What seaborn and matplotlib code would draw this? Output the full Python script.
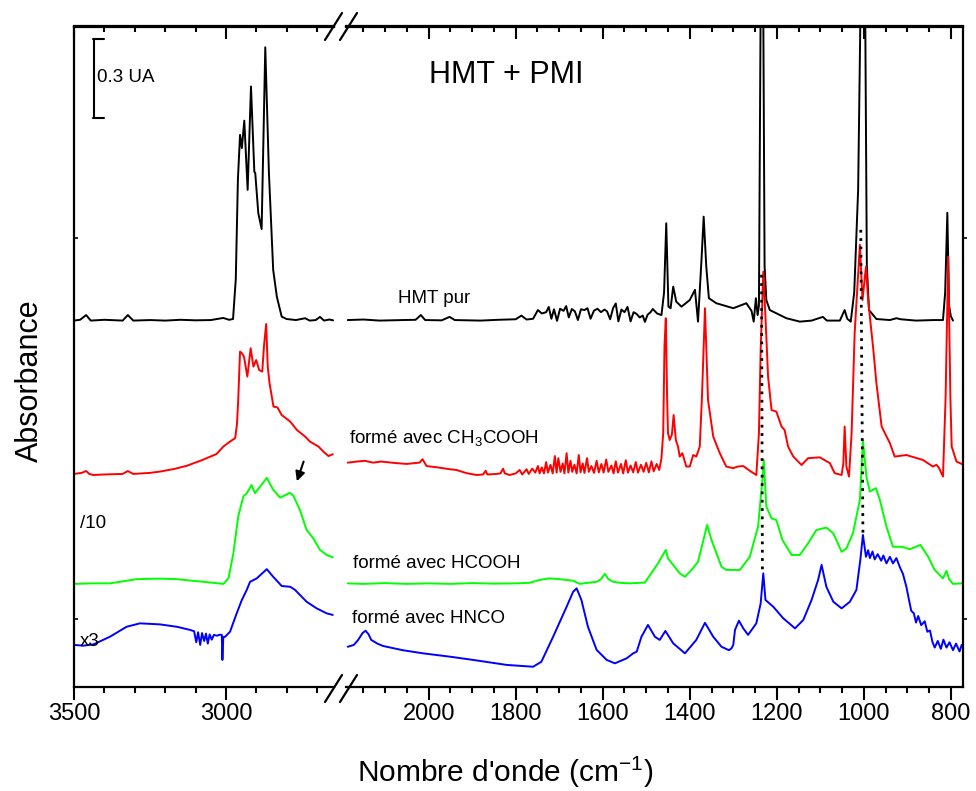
import matplotlib
matplotlib.use("Agg")
import matplotlib.pyplot as plt
import seaborn as sns
from matplotlib.lines import Line2D
from matplotlib.ticker import MultipleLocator

sns.set_style("ticks")
plt.rcParams['font.family'] = ['Liberation Sans', 'DejaVu Sans']
plt.rcParams['mathtext.default'] = 'regular'
for key in ('text.color', 'axes.edgecolor', 'xtick.color', 'ytick.color', 'axes.labelcolor'):
    plt.rcParams[key] = 'black'

# Spectra: (wavenumber cm-1, absorbance incl. offset)
# high wavenumber window 3500-2645, low wavenumber window 2190-772
hmt_hi = [(3500, 1.393), (3480, 1.396), (3460, 1.414), (3445, 1.393), (3400, 1.396), (3340, 1.393),
          (3323, 1.414), (3305, 1.393), (3250, 1.395), (3200, 1.393), (3150, 1.396), (3100, 1.394),
          (3050, 1.395), (3009, 1.403), (2990, 1.396), (2977, 1.399), (2968, 1.55), (2961, 1.93),
          (2954, 2.099), (2948, 2.049), (2940, 2.153), (2929, 1.890), (2918, 2.283), (2907, 1.959),
          (2904, 1.954), (2894, 1.802), (2883, 1.741), (2871, 2.432), (2859, 1.954), (2845, 1.586),
          (2833, 1.484), (2817, 1.408), (2801, 1.399), (2770, 1.395), (2740, 1.402), (2725, 1.393),
          (2705, 1.395), (2691, 1.407), (2678, 1.393), (2660, 1.397), (2648, 1.394)]

hmt_lo = [(2186, 1.395), (2150, 1.397), (2113, 1.393), (2060, 1.395), (2030, 1.396), (2018, 1.414),
          (2008, 1.395), (1970, 1.394), (1952, 1.407), (1940, 1.395), (1880, 1.393), (1840, 1.396),
          (1800, 1.398), (1787, 1.412), (1775, 1.397), (1760, 1.400), (1749, 1.433), (1740, 1.420),
          (1730, 1.425), (1724, 1.445), (1718, 1.400), (1712, 1.436), (1705, 1.392), (1698, 1.438),
          (1690, 1.430), (1684, 1.448), (1678, 1.405), (1671, 1.437), (1664, 1.428), (1657, 1.395),
          (1650, 1.436), (1642, 1.433), (1635, 1.440), (1628, 1.400), (1620, 1.431), (1612, 1.438),
          (1604, 1.425), (1596, 1.435), (1590, 1.428), (1583, 1.398), (1576, 1.441), (1570, 1.458),
          (1564, 1.390), (1557, 1.435), (1550, 1.425), (1543, 1.445), (1536, 1.390), (1529, 1.425),
          (1522, 1.418), (1515, 1.405), (1508, 1.412), (1503, 1.388), (1497, 1.415), (1490, 1.425),
          (1485, 1.437), (1475, 1.420), (1465, 1.414), (1459, 1.50), (1454, 1.763), (1449, 1.446),
          (1444, 1.440), (1438, 1.522), (1431, 1.465), (1419, 1.446), (1400, 1.471), (1388, 1.510),
          (1381, 1.389), (1373, 1.624), (1368, 1.788), (1362, 1.598), (1356, 1.478), (1339, 1.459),
          (1300, 1.440), (1270, 1.459), (1258, 1.430), (1253, 1.389), (1248, 1.478), (1244, 1.414),
          (1241, 1.45), (1236, 2.9), (1232, 2.9), (1228, 1.6), (1224, 1.471), (1216, 1.433),
          (1178, 1.402), (1147, 1.389), (1120, 1.393), (1094, 1.407), (1085, 1.393), (1055, 1.393),
          (1044, 1.433), (1038, 1.400), (1030, 1.389), (1022, 1.5), (1013, 1.890), (1005, 2.9),
          (998, 2.9), (993, 1.6), (988, 1.433), (971, 1.399), (940, 1.395), (925, 1.402),
          (915, 1.398), (880, 1.393), (840, 1.395), (818, 1.395), (813, 1.5), (808, 1.803),
          (804, 1.45), (800, 1.41), (795, 1.393)]

ch3_hi = [(3500, 0.810), (3475, 0.814), (3460, 0.821), (3450, 0.810), (3436, 0.806), (3400, 0.808),
          (3340, 0.810), (3323, 0.821), (3305, 0.810), (3250, 0.814), (3217, 0.819), (3170, 0.829),
          (3129, 0.841), (3080, 0.862), (3031, 0.886), (3009, 0.914), (2987, 0.933), (2970, 0.946),
          (2964, 1.0), (2960, 1.091), (2954, 1.275), (2948, 1.269), (2941, 1.256), (2930, 1.180),
          (2919, 1.288), (2910, 1.218), (2901, 1.243), (2891, 1.205), (2881, 1.199), (2875, 1.30),
          (2868, 1.380), (2863, 1.22), (2857, 1.155), (2844, 1.066), (2831, 1.063), (2817, 1.034),
          (2789, 1.009), (2767, 0.977), (2740, 0.952), (2724, 0.933), (2696, 0.914), (2680, 0.895),
          (2663, 0.878), (2649, 0.885)]

ch3_lo = [(2186, 0.853), (2160, 0.858), (2147, 0.860), (2128, 0.853), (2109, 0.857), (2080, 0.852),
          (2051, 0.848), (2021, 0.853), (2014, 0.866), (2005, 0.840), (1980, 0.835), (1952, 0.828),
          (1936, 0.825), (1913, 0.813), (1890, 0.806), (1875, 0.808), (1869, 0.822), (1865, 0.808),
          (1844, 0.810), (1835, 0.812), (1829, 0.830), (1825, 0.812), (1814, 0.806), (1800, 0.812),
          (1791, 0.825), (1785, 0.808), (1775, 0.828), (1770, 0.810), (1762, 0.830), (1755, 0.815),
          (1749, 0.840), (1745, 0.812), (1740, 0.835), (1735, 0.812), (1730, 0.855), (1726, 0.815),
          (1720, 0.845), (1715, 0.812), (1710, 0.878), (1706, 0.815), (1702, 0.870), (1697, 0.818),
          (1692, 0.850), (1688, 0.812), (1683, 0.889), (1679, 0.815), (1674, 0.860), (1670, 0.818),
          (1665, 0.845), (1660, 0.812), (1655, 0.882), (1651, 0.816), (1646, 0.850), (1642, 0.814),
          (1636, 0.870), (1632, 0.818), (1626, 0.840), (1620, 0.814), (1614, 0.860), (1609, 0.816),
          (1603, 0.848), (1598, 0.815), (1592, 0.865), (1587, 0.818), (1580, 0.842), (1575, 0.812),
          (1570, 0.858), (1565, 0.815), (1558, 0.848), (1553, 0.812), (1547, 0.862), (1542, 0.815),
          (1536, 0.842), (1530, 0.816), (1524, 0.855), (1519, 0.815), (1512, 0.845), (1506, 0.818),
          (1500, 0.852), (1494, 0.816), (1488, 0.858), (1483, 0.820), (1476, 0.848), (1470, 0.825),
          (1465, 0.870), (1461, 0.965), (1458, 1.30), (1455, 1.402), (1452, 1.10), (1450, 0.965),
          (1446, 0.939), (1441, 0.960), (1437, 1.034), (1432, 0.939), (1427, 0.914), (1423, 0.876),
          (1417, 0.889), (1408, 0.838), (1400, 0.838), (1392, 0.882), (1385, 0.876), (1377, 0.914),
          (1372, 1.10), (1365, 1.440), (1358, 1.091), (1346, 0.952), (1331, 0.889), (1316, 0.838),
          (1300, 0.832), (1290, 0.838), (1277, 0.840), (1262, 0.822), (1247, 0.806), (1241, 0.965),
          (1237, 1.281), (1231, 1.579), (1226, 1.408), (1220, 1.180), (1212, 1.053), (1201, 1.047),
          (1189, 0.990), (1182, 0.977), (1174, 0.914), (1162, 0.876), (1147, 0.851), (1143, 0.844),
          (1128, 0.870), (1101, 0.873), (1078, 0.851), (1067, 0.813), (1051, 0.806), (1047, 0.850),
          (1044, 0.990), (1040, 0.838), (1034, 0.800), (1028, 0.965), (1021, 1.345), (1009, 1.681),
          (1003, 1.471), (995, 1.598), (990, 1.471), (978, 1.281), (971, 1.155), (959, 0.990),
          (940, 0.927), (929, 0.876), (902, 0.882), (864, 0.863), (841, 0.838), (833, 0.845),
          (827, 0.832), (818, 0.800), (812, 1.100), (806, 1.636), (801, 1.100), (798, 0.914),
          (787, 0.857), (775, 0.848)]

hcooh_hi = [(3500, 0.392), (3440, 0.394), (3382, 0.394), (3294, 0.410), (3220, 0.412), (3162, 0.410),
            (3120, 0.405), (3075, 0.400), (3009, 0.392), (2992, 0.413), (2976, 0.508), (2960, 0.648),
            (2943, 0.725), (2932, 0.736), (2916, 0.768), (2905, 0.737), (2888, 0.762), (2866, 0.795),
            (2845, 0.750), (2822, 0.720), (2790, 0.738), (2779, 0.728), (2757, 0.673), (2735, 0.597),
            (2713, 0.565), (2691, 0.521), (2669, 0.502), (2649, 0.493)]

hcooh_lo = [(2186, 0.394), (2150, 0.392), (2100, 0.395), (2050, 0.392), (2000, 0.394), (1950, 0.392),
            (1900, 0.395), (1850, 0.393), (1800, 0.394), (1768, 0.396), (1745, 0.407), (1722, 0.413),
            (1700, 0.410), (1668, 0.404), (1653, 0.392), (1635, 0.396), (1614, 0.400), (1604, 0.410),
            (1595, 0.430), (1587, 0.410), (1576, 0.400), (1560, 0.396), (1538, 0.394), (1503, 0.397),
            (1473, 0.470), (1455, 0.521), (1450, 0.489), (1423, 0.432), (1411, 0.419), (1396, 0.445),
            (1381, 0.476), (1360, 0.616), (1350, 0.559), (1327, 0.457), (1316, 0.445), (1285, 0.445),
            (1262, 0.495), (1243, 0.610), (1233, 0.787), (1230, 0.863), (1224, 0.686), (1212, 0.641),
            (1201, 0.635), (1187, 0.559), (1166, 0.502), (1147, 0.502), (1128, 0.546), (1109, 0.597),
            (1086, 0.606), (1070, 0.584), (1051, 0.514), (1040, 0.527), (1025, 0.584), (1009, 0.711),
            (1002, 0.937), (994, 0.800), (986, 0.743), (972, 0.756), (963, 0.711), (948, 0.610),
            (933, 0.533), (913, 0.533), (894, 0.524), (870, 0.540), (852, 0.495), (837, 0.445),
            (818, 0.413), (810, 0.442), (804, 0.410), (795, 0.392), (775, 0.394)]

hnco_hi = [(3500, 0.160), (3470, 0.157), (3436, 0.162), (3382, 0.191), (3327, 0.229), (3283, 0.242),
           (3217, 0.238), (3162, 0.229), (3118, 0.217), (3105, 0.212), (3098, 0.170), (3092, 0.208),
           (3085, 0.160), (3079, 0.205), (3072, 0.175), (3066, 0.203), (3060, 0.165), (3054, 0.200),
           (3047, 0.180), (3040, 0.198), (3030, 0.195), (3020, 0.199), (3014, 0.198), (3012, 0.103),
           (3009, 0.190), (3003, 0.191), (2987, 0.210), (2965, 0.280), (2948, 0.331), (2932, 0.369),
           (2921, 0.400), (2899, 0.413), (2866, 0.448), (2845, 0.419), (2817, 0.384), (2789, 0.381),
           (2773, 0.369), (2735, 0.324), (2702, 0.299), (2669, 0.280), (2649, 0.274)]

hnco_lo = [(2186, 0.153), (2172, 0.160), (2162, 0.179), (2152, 0.205), (2145, 0.214), (2138, 0.200),
           (2132, 0.179), (2118, 0.165), (2105, 0.156), (2060, 0.140), (2013, 0.128), (1950, 0.115),
           (1898, 0.103), (1821, 0.084), (1760, 0.077), (1741, 0.096), (1714, 0.191), (1683, 0.305),
           (1668, 0.362), (1660, 0.375), (1649, 0.331), (1634, 0.229), (1614, 0.141), (1591, 0.103),
           (1572, 0.090), (1545, 0.109), (1530, 0.128), (1522, 0.134), (1511, 0.191), (1496, 0.236),
           (1480, 0.191), (1469, 0.179), (1456, 0.213), (1438, 0.166), (1411, 0.128), (1385, 0.179),
           (1365, 0.244), (1346, 0.191), (1327, 0.153), (1310, 0.140), (1304, 0.147), (1300, 0.160),
           (1296, 0.217), (1287, 0.252), (1277, 0.223), (1266, 0.198), (1247, 0.242), (1237, 0.318),
           (1231, 0.432), (1226, 0.331), (1208, 0.305), (1185, 0.261), (1158, 0.223), (1139, 0.255),
           (1120, 0.331), (1105, 0.407), (1097, 0.464), (1086, 0.381), (1070, 0.324), (1051, 0.299),
           (1032, 0.324), (1017, 0.369), (1008, 0.483), (1002, 0.578), (995, 0.495), (990, 0.520),
           (986, 0.490), (980, 0.515), (975, 0.485), (968, 0.505), (960, 0.480), (955, 0.500),
           (948, 0.470), (940, 0.495), (933, 0.470), (925, 0.490), (917, 0.455), (910, 0.430),
           (902, 0.380), (896, 0.330), (891, 0.290), (885, 0.280), (880, 0.245), (875, 0.270),
           (868, 0.235), (860, 0.250), (854, 0.210), (848, 0.215), (842, 0.170), (837, 0.150),
           (830, 0.175), (823, 0.145), (817, 0.180), (810, 0.150), (803, 0.170), (795, 0.140),
           (788, 0.165), (780, 0.135), (775, 0.160)]

# dotted guide lines joining the 1235 and 1005 bands
guide_1235 = [(1235, 1.567), (1233, 0.433)]
guide_1005 = [(1007, 1.738), (1002, 0.586)]

colors = ['black', '#ff0000', '#00ff00', '#0000ff']
W, H = 976, 791

fig = plt.figure(figsize=(W / 100, H / 100), dpi=100)
ax_l = fig.add_axes([74 / W, 104 / H, 260 / W, 660.5 / H])
ax_r = fig.add_axes([346 / W, 104 / H, 617 / W, 660.5 / H])

for ax, spectra in ((ax_l, [hmt_hi, ch3_hi, hcooh_hi, hnco_hi]),
                    (ax_r, [hmt_lo, ch3_lo, hcooh_lo, hnco_lo])):
    for spec, c in zip(spectra, colors):
        wn, a = zip(*spec)
        sns.lineplot(x=list(wn), y=list(a), ax=ax, color=c, lw=1.4,
                     sort=False, estimator=None)

for guide in (guide_1235, guide_1005):
    wn, a = zip(*guide)
    ax_r.plot(wn, a, color='black', ls=(0, (1, 2)), lw=2)

ax_l.set_xlim(3500, 2645)
ax_r.set_xlim(2190, 772)
for ax in (ax_l, ax_r):
    ax.set_ylim(0, 2.511)
    ax.set_xlabel('')
    ax.set_ylabel('')
    for s in ax.spines.values():
        s.set_linewidth(1.6)

ax_l.set_xticks([3500, 3000])
ax_l.xaxis.set_minor_locator(MultipleLocator(100))
ax_r.set_xticks([2000, 1800, 1600, 1400, 1200, 1000, 800])
ax_r.xaxis.set_minor_locator(MultipleLocator(50))

for ax in (ax_l, ax_r):
    ax.tick_params(axis='x', which='major', length=9.5, width=1.5, direction='out',
                   labelsize=17, pad=2)
    ax.tick_params(axis='x', which='minor', length=4.5, width=1.5, direction='out')
    top = ax.secondary_xaxis('top')
    top.set_xticks(ax.get_xticks())
    top.xaxis.set_minor_locator(MultipleLocator(100 if ax is ax_l else 50))
    top.tick_params(axis='x', which='major', length=9.5, width=1.5, direction='in',
                    labeltop=False)
    top.tick_params(axis='x', which='minor', length=4.5, width=1.5, direction='in')
    top.spines['top'].set_linewidth(1.6)

ax_l.spines['right'].set_visible(False)
ax_r.spines['left'].set_visible(False)
ax_l.set_yticks([0.259, 1.707])
ax_l.set_yticklabels([])
ax_l.tick_params(axis='y', length=3, width=1.2, direction='in')
ax_r.yaxis.tick_right()
ax_r.set_yticks([0.259, 1.707])
ax_r.set_yticklabels([])
ax_r.tick_params(axis='y', length=3, width=1.2, direction='out')

# axis break marks
for x1, x2 in ((325, 342), (340, 357)):
    for yb, yt in ((702, 675), (40, 13)):
        fig.add_artist(Line2D([x1 / W, x2 / W], [1 - yb / H, 1 - yt / H],
                              transform=fig.transFigure, color='black', lw=1.6))

# scale bar
ax_l.plot([3434, 3434], [2.164, 2.464], color='black', lw=1.5)
ax_l.plot([3439, 3400], [2.464, 2.464], color='black', lw=1.5)
ax_l.plot([3439, 3400], [2.164, 2.164], color='black', lw=1.5)
ax_l.text(3424, 2.300, '0.3 UA', fontsize=13.5, va='baseline')

ax_l.text(3480, 0.605, '/10', fontsize=13.5, va='baseline')
ax_l.text(3480, 0.156, 'x3', fontsize=13.5, va='baseline')
ax_l.annotate('', xy=(2770, 0.772), xytext=(2742, 0.867),
              arrowprops=dict(arrowstyle='-|>', color='black', lw=1.5, mutation_scale=14))

ax_r.text(1821, 2.297, 'HMT + PMI', fontsize=22, ha='center', va='baseline')
ax_r.text(2071, 1.460, 'HMT pur', fontsize=13.5, va='baseline')
ax_r.text(2182, 0.928, 'formé avec CH$_3$COOH', fontsize=13.5, va='baseline')
ax_r.text(2175, 0.452, 'formé avec HCOOH', fontsize=13.5, va='baseline')
ax_r.text(2177, 0.243, 'formé avec HNCO', fontsize=13.5, va='baseline')

fig.text(505 / W, 1 - 782 / H, "Nombre d'onde (cm$^{-1}$)", fontsize=21.5,
         ha='center', va='baseline')
fig.text(30 / W, 1 - 381 / H, 'Absorbance', fontsize=22, rotation=90,
         ha='center', va='center')

fig.savefig('out.png', dpi=100)
